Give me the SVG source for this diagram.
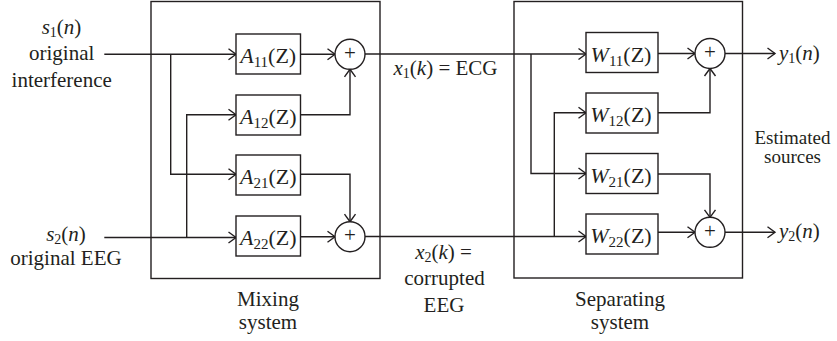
<svg xmlns="http://www.w3.org/2000/svg" width="837" height="341" viewBox="0 0 837 341">
<defs>
<marker id="arr" markerUnits="userSpaceOnUse" markerWidth="12" markerHeight="14" refX="9" refY="7" orient="auto" viewBox="0 0 12 14">
<path d="M1.5,1.5 L9,7 L1.5,12.5" fill="none" stroke="#231f20" stroke-width="1.4"/>
</marker>
<style>
text{font-family:'Liberation Serif','DejaVu Serif',serif;fill:#231f20;}
.lbl{font-size:21px;}
.est{font-size:19px;}
.blk{font-size:22px;}
.sub{font-size:14px;}
.bsub{font-size:15px;}
.it{font-style:italic;}
.frame,.box,.sum{fill:#ffffff;stroke:#231f20;stroke-width:1.4;}
.wire{fill:none;stroke:#231f20;stroke-width:1.4;}
.arw{marker-end:url(#arr);}
.plus{font-size:21px;}
</style>
</defs>
<rect width="837" height="341" fill="#ffffff"/>

<g id="mixing-system">
<rect class="frame" x="151" y="1.5" width="229" height="277"/>
<text class="lbl" x="268" y="305.5" text-anchor="middle" font-family="Liberation Serif, serif">Mixing</text>
<text class="lbl" x="268" y="329" text-anchor="middle" font-family="Liberation Serif, serif">system</text>
</g>
<g id="separating-system">
<rect class="frame" x="514" y="1.5" width="228.5" height="276.5"/>
<text class="lbl" x="620" y="305.5" text-anchor="middle">Separating</text>
<text class="lbl" x="620" y="329" text-anchor="middle">system</text>
</g>

<g id="connectors">
<path class="wire arw" d="M104.3,54.3 H236"/>
<path class="wire arw" d="M170.7,54.3 V174.3 H236"/>
<path class="wire arw" d="M104.3,237.5 H236"/>
<path class="wire arw" d="M186.7,237.5 V114.7 H236"/>
<path class="wire arw" d="M300.5,54.3 H335"/>
<path class="wire arw" d="M300.5,114.7 H350 V69.3"/>
<path class="wire arw" d="M300.5,174.3 H350 V221.7"/>
<path class="wire arw" d="M300.5,236.7 H335"/>
<path class="wire arw" d="M365,54 H586"/>
<path class="wire arw" d="M531,54 V173.5 H586"/>
<path class="wire arw" d="M365,236.5 H586"/>
<path class="wire arw" d="M554.3,236.5 V112.7 H586"/>
<path class="wire arw" d="M658,53.5 H695"/>
<path class="wire arw" d="M658,112.7 H710 V68.5"/>
<path class="wire arw" d="M658,174 H710 V217.3"/>
<path class="wire arw" d="M658,232.3 H695"/>
<path class="wire arw" d="M725,53.5 H775"/>
<path class="wire arw" d="M725,232.3 H775"/>
</g>

<g id="A11">
<rect class="box" x="236" y="34" width="64.5" height="40"/>
<text class="blk" x="268.2" y="63" text-anchor="middle"><tspan class="it">A</tspan><tspan class="bsub" dy="4">11</tspan><tspan dy="-4">(Z)</tspan></text>
</g>
<g id="A12">
<rect class="box" x="236" y="95" width="64.5" height="40"/>
<text class="blk" x="268.2" y="124" text-anchor="middle"><tspan class="it">A</tspan><tspan class="bsub" dy="4">12</tspan><tspan dy="-4">(Z)</tspan></text>
</g>
<g id="A21">
<rect class="box" x="236" y="155" width="64.5" height="40"/>
<text class="blk" x="268.2" y="184" text-anchor="middle"><tspan class="it">A</tspan><tspan class="bsub" dy="4">21</tspan><tspan dy="-4">(Z)</tspan></text>
</g>
<g id="A22">
<rect class="box" x="236" y="216" width="64.5" height="40"/>
<text class="blk" x="268.2" y="245" text-anchor="middle"><tspan class="it">A</tspan><tspan class="bsub" dy="4">22</tspan><tspan dy="-4">(Z)</tspan></text>
</g>
<g id="sum-m1">
<circle class="sum" cx="350" cy="54.3" r="15"/>
<text class="plus" x="350" y="59.8" text-anchor="middle">+</text>
</g>
<g id="sum-m2">
<circle class="sum" cx="350" cy="236.7" r="15"/>
<text class="plus" x="350" y="242.2" text-anchor="middle">+</text>
</g>

<g id="W11">
<rect class="box" x="586" y="32.5" width="72" height="40"/>
<text class="blk" x="621" y="61.5" text-anchor="middle"><tspan class="it">W</tspan><tspan class="bsub" dy="4">11</tspan><tspan dy="-4">(Z)</tspan></text>
</g>
<g id="W12">
<rect class="box" x="586" y="93" width="72" height="40"/>
<text class="blk" x="621" y="122" text-anchor="middle"><tspan class="it">W</tspan><tspan class="bsub" dy="4">12</tspan><tspan dy="-4">(Z)</tspan></text>
</g>
<g id="W21">
<rect class="box" x="586" y="153.5" width="72" height="40"/>
<text class="blk" x="621" y="182.5" text-anchor="middle"><tspan class="it">W</tspan><tspan class="bsub" dy="4">21</tspan><tspan dy="-4">(Z)</tspan></text>
</g>
<g id="W22">
<rect class="box" x="586" y="214" width="72" height="40"/>
<text class="blk" x="621" y="243" text-anchor="middle"><tspan class="it">W</tspan><tspan class="bsub" dy="4">22</tspan><tspan dy="-4">(Z)</tspan></text>
</g>
<g id="sum-s1">
<circle class="sum" cx="710" cy="53.5" r="15"/>
<text class="plus" x="710" y="59" text-anchor="middle">+</text>
</g>
<g id="sum-s2">
<circle class="sum" cx="710" cy="232.3" r="15"/>
<text class="plus" x="710" y="237.8" text-anchor="middle">+</text>
</g>

<g id="label-s1">
<text class="lbl" x="61.5" y="34.3" text-anchor="middle"><tspan class="it">s</tspan><tspan class="sub" dy="3">1</tspan><tspan dy="-3">(</tspan><tspan class="it">n</tspan><tspan>)</tspan></text>
<text class="lbl" x="61.7" y="60" text-anchor="middle">original</text>
<text class="lbl" x="61.7" y="87.3" text-anchor="middle">interference</text>
</g>
<g id="label-s2">
<text class="lbl" x="66" y="240.7" text-anchor="middle"><tspan class="it">s</tspan><tspan class="sub" dy="3">2</tspan><tspan dy="-3">(</tspan><tspan class="it">n</tspan><tspan>)</tspan></text>
<text class="lbl" x="66" y="265" text-anchor="middle">original EEG</text>
</g>
<g id="label-x1">
<text class="lbl" x="445.5" y="75" text-anchor="middle"><tspan class="it">x</tspan><tspan class="sub" dy="3">1</tspan><tspan dy="-3">(</tspan><tspan class="it">k</tspan><tspan>)  =  ECG</tspan></text>
</g>
<g id="label-x2">
<text class="lbl" x="443.5" y="258.5" text-anchor="middle"><tspan class="it">x</tspan><tspan class="sub" dy="3">2</tspan><tspan dy="-3">(</tspan><tspan class="it">k</tspan><tspan>)  =</tspan></text>
<text class="lbl" x="444.5" y="285" text-anchor="middle">corrupted</text>
<text class="lbl" x="444" y="311.5" text-anchor="middle">EEG</text>
</g>
<g id="label-y1">
<text class="lbl" x="779" y="59.5"><tspan class="it">y</tspan><tspan class="sub" dy="3">1</tspan><tspan dy="-3">(</tspan><tspan class="it">n</tspan><tspan>)</tspan></text>
</g>
<g id="label-y2">
<text class="lbl" x="779" y="238.3"><tspan class="it">y</tspan><tspan class="sub" dy="3">2</tspan><tspan dy="-3">(</tspan><tspan class="it">n</tspan><tspan>)</tspan></text>
</g>
<g id="label-estimated">
<text class="est" x="792.5" y="143.5" text-anchor="middle">Estimated</text>
<text class="est" x="792.5" y="163" text-anchor="middle">sources</text>
</g>
</svg>
